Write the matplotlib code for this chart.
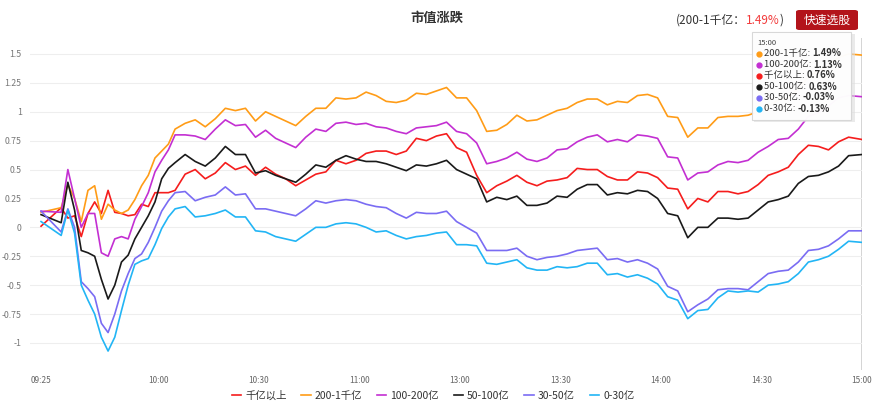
import matplotlib.pyplot as plt
from matplotlib.lines import Line2D
from matplotlib.patches import FancyBboxPatch, Rectangle

plt.rcParams['font.family'] = ['Noto Sans CJK SC', 'DejaVu Sans']

# trading-clock minutes since 09:25 (lunch break collapsed, 11:30 == 13:00)
minutes = [0, 6, 8, 10, 12, 14, 16, 18, 20, 22, 24, 26, 28, 30, 32, 34, 36, 38, 40,
           43, 46, 49, 52, 55, 58, 61, 64, 67, 70, 73, 76, 79, 82, 85, 88, 91, 94, 97,
           100, 103, 106, 109, 112, 115, 118, 121, 124, 127, 130, 133, 136, 139, 142,
           145, 148, 151, 154, 157, 160, 163, 166, 169, 172, 175, 178, 181, 184, 187,
           190, 193, 196, 199, 202, 205, 208, 211, 214, 217, 220, 223, 226, 229, 232,
           235, 238, 241, 245]

# 千亿以上
cap_1000 = [0.01, 0.17, 0.08, 0.10, -0.08, 0.12, 0.22, 0.12, 0.32, 0.13, 0.12, 0.10, 0.11, 0.20, 0.18, 0.30, 0.30, 0.30, 0.32,
            0.46, 0.50, 0.42, 0.47, 0.56, 0.50, 0.53, 0.45, 0.52, 0.46, 0.42, 0.36, 0.41, 0.46, 0.48, 0.58, 0.55, 0.58, 0.64,
            0.66, 0.66, 0.63, 0.66, 0.77, 0.75, 0.79, 0.81, 0.69, 0.65, 0.45, 0.30, 0.36, 0.40, 0.45,
            0.39, 0.36, 0.40, 0.41, 0.43, 0.51, 0.50, 0.50, 0.44, 0.41, 0.41, 0.48, 0.47, 0.43, 0.34,
            0.33, 0.16, 0.25, 0.22, 0.31, 0.31, 0.29, 0.31, 0.37, 0.45, 0.48, 0.52, 0.63, 0.71, 0.70,
            0.67, 0.74, 0.78, 0.76]
# 200-1千亿
cap_200_1000 = [0.13, 0.17, 0.37, 0.25, 0.05, 0.32, 0.36, 0.07, 0.20, 0.15, 0.12, 0.15, 0.24, 0.36, 0.45, 0.60, 0.66, 0.72, 0.85,
                0.90, 0.93, 0.87, 0.94, 1.03, 1.01, 1.03, 0.92, 1.00, 0.96, 0.92, 0.88, 0.96, 1.03, 1.03, 1.12, 1.11, 1.12, 1.17,
                1.14, 1.09, 1.08, 1.10, 1.16, 1.15, 1.18, 1.21, 1.12, 1.12, 1.01, 0.83, 0.84, 0.89, 0.97,
                0.92, 0.93, 0.97, 1.01, 1.03, 1.08, 1.11, 1.11, 1.06, 1.09, 1.08, 1.14, 1.15, 1.12, 0.96,
                0.95, 0.78, 0.86, 0.86, 0.95, 0.96, 0.96, 0.97, 1.00, 1.05, 1.10, 1.12, 1.20, 1.30, 1.35,
                1.40, 1.47, 1.50, 1.49]
# 100-200亿
cap_100_200 = [0.14, 0.13, 0.50, 0.25, 0.00, 0.12, 0.12, -0.22, -0.25, -0.10, -0.08, -0.10, 0.07, 0.18, 0.30, 0.48, 0.58, 0.67, 0.80,
               0.80, 0.79, 0.76, 0.85, 0.93, 0.88, 0.89, 0.78, 0.84, 0.77, 0.73, 0.69, 0.78, 0.85, 0.83, 0.90, 0.91, 0.89, 0.90,
               0.87, 0.86, 0.83, 0.81, 0.86, 0.87, 0.88, 0.91, 0.83, 0.81, 0.73, 0.55, 0.57, 0.60, 0.65,
               0.59, 0.57, 0.60, 0.67, 0.68, 0.74, 0.78, 0.80, 0.74, 0.76, 0.74, 0.80, 0.79, 0.77, 0.61,
               0.60, 0.41, 0.47, 0.48, 0.54, 0.57, 0.56, 0.58, 0.65, 0.70, 0.76, 0.77, 0.85, 0.96, 0.99,
               1.05, 1.12, 1.14, 1.13]
# 50-100亿
cap_50_100 = [0.11, 0.04, 0.39, 0.15, -0.20, -0.22, -0.25, -0.45, -0.62, -0.50, -0.30, -0.24, -0.10, 0.00, 0.10, 0.22, 0.42, 0.51, 0.56,
              0.63, 0.57, 0.53, 0.60, 0.70, 0.63, 0.63, 0.47, 0.49, 0.45, 0.42, 0.39, 0.46, 0.54, 0.52, 0.58, 0.62, 0.59, 0.57,
              0.57, 0.55, 0.52, 0.49, 0.54, 0.53, 0.55, 0.58, 0.50, 0.46, 0.42, 0.22, 0.26, 0.24, 0.27,
              0.19, 0.19, 0.21, 0.27, 0.26, 0.33, 0.37, 0.37, 0.28, 0.30, 0.29, 0.32, 0.31, 0.25, 0.12,
              0.10, -0.09, 0.00, 0.00, 0.08, 0.08, 0.07, 0.08, 0.15, 0.22, 0.24, 0.27, 0.38, 0.44, 0.45,
              0.48, 0.53, 0.62, 0.63]
# 30-50亿
cap_30_50 = [0.14, -0.04, 0.16, 0.00, -0.47, -0.53, -0.60, -0.83, -0.91, -0.75, -0.55, -0.40, -0.27, -0.23, -0.13, 0.00, 0.14, 0.23, 0.30,
             0.31, 0.23, 0.26, 0.28, 0.35, 0.28, 0.29, 0.16, 0.16, 0.14, 0.12, 0.10, 0.16, 0.23, 0.21, 0.23, 0.24, 0.23, 0.20,
             0.18, 0.17, 0.12, 0.08, 0.13, 0.12, 0.12, 0.14, 0.05, 0.00, -0.05, -0.20, -0.20, -0.20, -0.18,
             -0.25, -0.28, -0.26, -0.25, -0.23, -0.20, -0.19, -0.18, -0.28, -0.27, -0.30, -0.28, -0.31, -0.36, -0.51,
             -0.55, -0.73, -0.67, -0.62, -0.54, -0.53, -0.53, -0.54, -0.47, -0.40, -0.38, -0.37, -0.30, -0.20, -0.19,
             -0.16, -0.10, -0.03, -0.03]
# 0-30亿
cap_0_30 = [0.05, -0.07, 0.15, -0.05, -0.50, -0.63, -0.75, -0.95, -1.07, -0.95, -0.72, -0.50, -0.32, -0.29, -0.27, -0.15, -0.01, 0.09, 0.16,
            0.18, 0.09, 0.10, 0.12, 0.15, 0.09, 0.09, -0.03, -0.04, -0.08, -0.10, -0.12, -0.06, 0.00, 0.00, 0.03, 0.04, 0.03, 0.00,
            -0.04, -0.03, -0.07, -0.10, -0.08, -0.07, -0.05, -0.04, -0.15, -0.15, -0.16, -0.31, -0.32, -0.30, -0.28,
            -0.35, -0.37, -0.37, -0.34, -0.35, -0.34, -0.31, -0.31, -0.41, -0.40, -0.43, -0.41, -0.44, -0.49, -0.60,
            -0.63, -0.79, -0.72, -0.71, -0.61, -0.55, -0.56, -0.55, -0.56, -0.50, -0.49, -0.47, -0.40, -0.30, -0.28,
            -0.25, -0.19, -0.12, -0.13]

names = ['千亿以上', '200-1千亿', '100-200亿', '50-100亿', '30-50亿', '0-30亿']
series = [cap_1000, cap_200_1000, cap_100_200, cap_50_100, cap_30_50, cap_0_30]
colors = ['#f51d1d', '#ff9c17', '#c32fd2', '#1a1a1a', '#7a6cf3', '#22b5f5']

tick_minutes = [0, 35, 65, 95, 125, 155, 185, 215, 245]
tick_labels = ['09:25', '10:00', '10:30', '11:00', '13:00', '13:30', '14:00', '14:30', '15:00']
y_ticks = [-1, -0.75, -0.5, -0.25, 0, 0.25, 0.5, 0.75, 1, 1.25, 1.5]
y_labels = ['-1', '-0.75', '-0.5', '-0.25', '0', '0.25', '0.5', '0.75', '1', '1.25', '1.5']
last_time = '15:00'

W, H = 877, 420
def fx(px):
    return px / W
def fy(py):
    return 1 - py / H

fig = plt.figure(figsize=(W / 100, H / 100), dpi=100)
ax = fig.add_axes([fx(30), fy(370), fx(862) - fx(30), fy(38) - fy(370)])

for vals, name, c in zip(series, names, colors):
    ax.plot(minutes, vals, color=c, lw=1.2, label=name)

ax.axvline(minutes[-1], color='#c8c8c8', lw=1.8, zorder=0)

ax.set_xlim(-3.3, 245)
ax.set_ylim(-1.234, 1.638)
ax.set_xticks(tick_minutes)
ax.set_xticklabels(tick_labels, fontsize=6, color='#666666')
ax.set_yticks(y_ticks)
ax.set_yticklabels(y_labels, fontsize=6.3, color='#777777')
ax.tick_params(length=0)
ax.tick_params(axis='y', pad=6)
ax.tick_params(axis='x', pad=4)
ax.grid(axis='y', color='#eeeeee', lw=0.8)
ax.set_axisbelow(True)
for s in ax.spines.values():
    s.set_visible(False)

# title and header
fig.text(fx(437), fy(18), '市值涨跌', ha='center', va='center', fontsize=9.5,
         fontweight='bold', color='#333333')

renderer = fig.canvas.get_renderer()

# sorted snapshot at the last minute
snapshot = sorted(zip(names, [s[-1] for s in series], colors), key=lambda r: -r[1])
top_name, top_val, _ = snapshot[0]

t1 = fig.text(fx(676), fy(20), '(' + top_name + '：', ha='left', va='center',
              fontsize=8.5, color='#333333')
bb = t1.get_window_extent(renderer)
t2 = fig.text(bb.x1 / W, fy(20), f'{top_val:.2f}%', ha='left', va='center',
              fontsize=8.5, color='#f23b3b')
bb = t2.get_window_extent(renderer)
fig.text(bb.x1 / W, fy(20), ')', ha='left', va='center', fontsize=8.5, color='#333333')

btn = FancyBboxPatch((fx(796), fy(30)), fx(858) - fx(796), fy(10) - fy(30),
                     boxstyle='round,pad=0,rounding_size=0.004',
                     transform=fig.transFigure, facecolor='#b3141b', edgecolor='none')
fig.add_artist(btn)
fig.text(fx(827), fy(20), '快速选股', ha='center', va='center', fontsize=8.5, color='white')

# tooltip
shadow = Rectangle((fx(754), fy(122)), fx(853) - fx(752), fy(32) - fy(120),
                   transform=fig.transFigure, facecolor='#dddddd', edgecolor='none',
                   alpha=0.6, zorder=5)
fig.add_artist(shadow)
tip = Rectangle((fx(752), fy(120)), fx(851) - fx(752), fy(32) - fy(120),
                transform=fig.transFigure, facecolor='white', edgecolor='#d6d6d6',
                lw=0.8, alpha=0.95, zorder=6)
fig.add_artist(tip)
fig.text(fx(757), fy(43), last_time, ha='left', va='center', fontsize=5.5,
         color='#444444', zorder=7)
row_y = [53.5, 64.5, 75.5, 86.5, 97.5, 108.5]
for (name, val, c), py in zip(snapshot, row_y):
    fig.add_artist(Line2D([fx(759)], [fy(py)], marker='o', markersize=3.5, color=c,
                          transform=fig.transFigure, zorder=7))
    lt = fig.text(fx(764), fy(py), name + ': ', ha='left', va='center', fontsize=6.8,
                  color='#333333', zorder=7)
    bb = lt.get_window_extent(renderer)
    fig.text(bb.x1 / W, fy(py), f'{val:.2f}%', ha='left', va='center', fontsize=6.8,
             fontweight='bold', color='#333333', zorder=7)

# bottom legend
fig.legend(loc='center', bbox_to_anchor=(fx(433), fy(396)), ncol=6, frameon=False,
           fontsize=7.5, handlelength=0.9, handletextpad=0.4, columnspacing=1.4,
           labelcolor='#333333')

fig.savefig('out.png', dpi=100)
